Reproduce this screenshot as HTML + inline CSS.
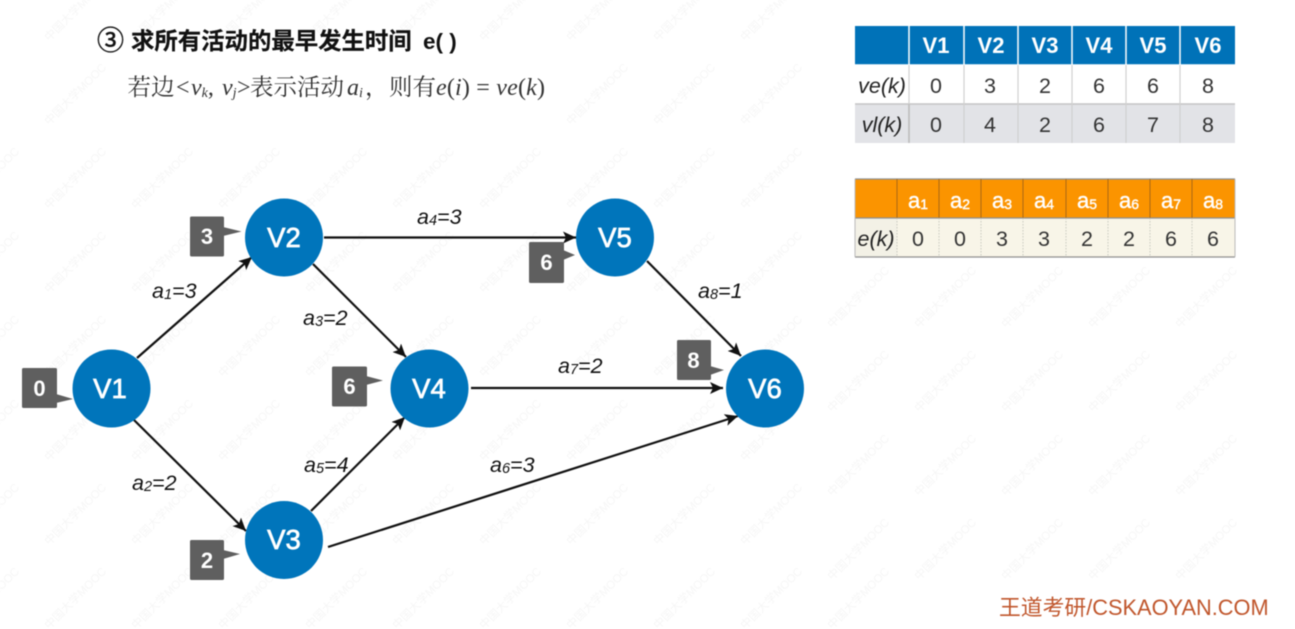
<!DOCTYPE html>
<html><head><meta charset="utf-8">
<style>
html,body{margin:0;padding:0;background:#fff;width:1295px;height:629px;overflow:hidden}
svg{display:block;filter:blur(.5px)}
text{font-family:"Liberation Sans","Noto Sans CJK SC",sans-serif}
.node{font-size:27.500px;fill:#fff;text-anchor:middle;stroke:#fff;stroke-width:.7px}
.call{font-size:22px;fill:#fff;text-anchor:middle;font-weight:bold}
.lab{font-size:21.500px;font-style:italic;fill:#111}
.lab tspan{font-size:14.500px}
.h{font-size:22px;font-weight:bold;fill:#fff;text-anchor:middle}
.c{font-size:21.500px;fill:#333;text-anchor:middle}
.i{font-size:21.500px;font-style:italic;fill:#222;text-anchor:middle}
.s{font-size:14px}
.ser{font-family:"Liberation Serif","Noto Serif CJK SC",serif;fill:#333;font-size:23.500px}
.m{font-family:"Liberation Serif",serif;font-style:italic;fill:#333;font-size:24px}
.wm{font-size:11.500px;fill:#f6f6f6;text-anchor:middle}
line.e{stroke:#111;stroke-width:2.200;marker-end:url(#ah)}
</style></head><body>
<svg width="1295" height="629" viewBox="0 0 1295 629" xmlns="http://www.w3.org/2000/svg">
<defs>
<marker id="ah" markerUnits="userSpaceOnUse" markerWidth="14" markerHeight="12" refX="13" refY="6" orient="auto"><path d="M0 0L13 6L0 12L3 6Z" fill="#111"/></marker>
</defs>
<!-- watermark -->
<g class="wmg">
<text class="wm" transform="translate(78,13) rotate(-45)">中国大学MOOC</text><text class="wm" transform="translate(165,13) rotate(-45)">中国大学MOOC</text><text class="wm" transform="translate(252,13) rotate(-45)">中国大学MOOC</text><text class="wm" transform="translate(339,13) rotate(-45)">中国大学MOOC</text><text class="wm" transform="translate(426,13) rotate(-45)">中国大学MOOC</text><text class="wm" transform="translate(513,13) rotate(-45)">中国大学MOOC</text><text class="wm" transform="translate(600,13) rotate(-45)">中国大学MOOC</text><text class="wm" transform="translate(687,13) rotate(-45)">中国大学MOOC</text><text class="wm" transform="translate(774,13) rotate(-45)">中国大学MOOC</text>
<text class="wm" transform="translate(78,97) rotate(-45)">中国大学MOOC</text><text class="wm" transform="translate(600,97) rotate(-45)">中国大学MOOC</text><text class="wm" transform="translate(687,97) rotate(-45)">中国大学MOOC</text><text class="wm" transform="translate(774,97) rotate(-45)">中国大学MOOC</text>
<text class="wm" transform="translate(-9,181) rotate(-45)">中国大学MOOC</text><text class="wm" transform="translate(78,181) rotate(-45)">中国大学MOOC</text><text class="wm" transform="translate(165,181) rotate(-45)">中国大学MOOC</text><text class="wm" transform="translate(252,181) rotate(-45)">中国大学MOOC</text><text class="wm" transform="translate(339,181) rotate(-45)">中国大学MOOC</text><text class="wm" transform="translate(426,181) rotate(-45)">中国大学MOOC</text><text class="wm" transform="translate(513,181) rotate(-45)">中国大学MOOC</text><text class="wm" transform="translate(600,181) rotate(-45)">中国大学MOOC</text><text class="wm" transform="translate(687,181) rotate(-45)">中国大学MOOC</text><text class="wm" transform="translate(774,181) rotate(-45)">中国大学MOOC</text>
<text class="wm" transform="translate(-9,265) rotate(-45)">中国大学MOOC</text><text class="wm" transform="translate(78,265) rotate(-45)">中国大学MOOC</text><text class="wm" transform="translate(165,265) rotate(-45)">中国大学MOOC</text><text class="wm" transform="translate(252,265) rotate(-45)">中国大学MOOC</text><text class="wm" transform="translate(339,265) rotate(-45)">中国大学MOOC</text><text class="wm" transform="translate(426,265) rotate(-45)">中国大学MOOC</text><text class="wm" transform="translate(513,265) rotate(-45)">中国大学MOOC</text><text class="wm" transform="translate(600,265) rotate(-45)">中国大学MOOC</text><text class="wm" transform="translate(687,265) rotate(-45)">中国大学MOOC</text><text class="wm" transform="translate(774,265) rotate(-45)">中国大学MOOC</text><text class="wm" transform="translate(861,300) rotate(-45)">中国大学MOOC</text><text class="wm" transform="translate(948,300) rotate(-45)">中国大学MOOC</text><text class="wm" transform="translate(1035,300) rotate(-45)">中国大学MOOC</text><text class="wm" transform="translate(1122,300) rotate(-45)">中国大学MOOC</text><text class="wm" transform="translate(1209,300) rotate(-45)">中国大学MOOC</text>
<text class="wm" transform="translate(-9,349) rotate(-45)">中国大学MOOC</text><text class="wm" transform="translate(78,349) rotate(-45)">中国大学MOOC</text><text class="wm" transform="translate(165,349) rotate(-45)">中国大学MOOC</text><text class="wm" transform="translate(252,349) rotate(-45)">中国大学MOOC</text><text class="wm" transform="translate(339,349) rotate(-45)">中国大学MOOC</text><text class="wm" transform="translate(426,349) rotate(-45)">中国大学MOOC</text><text class="wm" transform="translate(513,349) rotate(-45)">中国大学MOOC</text><text class="wm" transform="translate(600,349) rotate(-45)">中国大学MOOC</text><text class="wm" transform="translate(687,349) rotate(-45)">中国大学MOOC</text><text class="wm" transform="translate(774,349) rotate(-45)">中国大学MOOC</text><text class="wm" transform="translate(861,384) rotate(-45)">中国大学MOOC</text><text class="wm" transform="translate(948,384) rotate(-45)">中国大学MOOC</text><text class="wm" transform="translate(1035,384) rotate(-45)">中国大学MOOC</text><text class="wm" transform="translate(1122,384) rotate(-45)">中国大学MOOC</text><text class="wm" transform="translate(1209,384) rotate(-45)">中国大学MOOC</text>
<text class="wm" transform="translate(-9,433) rotate(-45)">中国大学MOOC</text><text class="wm" transform="translate(78,433) rotate(-45)">中国大学MOOC</text><text class="wm" transform="translate(165,433) rotate(-45)">中国大学MOOC</text><text class="wm" transform="translate(252,433) rotate(-45)">中国大学MOOC</text><text class="wm" transform="translate(339,433) rotate(-45)">中国大学MOOC</text><text class="wm" transform="translate(426,433) rotate(-45)">中国大学MOOC</text><text class="wm" transform="translate(513,433) rotate(-45)">中国大学MOOC</text><text class="wm" transform="translate(600,433) rotate(-45)">中国大学MOOC</text><text class="wm" transform="translate(687,433) rotate(-45)">中国大学MOOC</text><text class="wm" transform="translate(774,433) rotate(-45)">中国大学MOOC</text><text class="wm" transform="translate(861,468) rotate(-45)">中国大学MOOC</text><text class="wm" transform="translate(948,468) rotate(-45)">中国大学MOOC</text><text class="wm" transform="translate(1035,468) rotate(-45)">中国大学MOOC</text><text class="wm" transform="translate(1122,468) rotate(-45)">中国大学MOOC</text><text class="wm" transform="translate(1209,468) rotate(-45)">中国大学MOOC</text>
<text class="wm" transform="translate(-9,517) rotate(-45)">中国大学MOOC</text><text class="wm" transform="translate(78,517) rotate(-45)">中国大学MOOC</text><text class="wm" transform="translate(165,517) rotate(-45)">中国大学MOOC</text><text class="wm" transform="translate(252,517) rotate(-45)">中国大学MOOC</text><text class="wm" transform="translate(339,517) rotate(-45)">中国大学MOOC</text><text class="wm" transform="translate(426,517) rotate(-45)">中国大学MOOC</text><text class="wm" transform="translate(513,517) rotate(-45)">中国大学MOOC</text><text class="wm" transform="translate(600,517) rotate(-45)">中国大学MOOC</text><text class="wm" transform="translate(687,517) rotate(-45)">中国大学MOOC</text><text class="wm" transform="translate(774,517) rotate(-45)">中国大学MOOC</text><text class="wm" transform="translate(861,552) rotate(-45)">中国大学MOOC</text><text class="wm" transform="translate(948,552) rotate(-45)">中国大学MOOC</text><text class="wm" transform="translate(1035,552) rotate(-45)">中国大学MOOC</text><text class="wm" transform="translate(1122,552) rotate(-45)">中国大学MOOC</text><text class="wm" transform="translate(1209,552) rotate(-45)">中国大学MOOC</text>
<text class="wm" transform="translate(-9,601) rotate(-45)">中国大学MOOC</text><text class="wm" transform="translate(78,601) rotate(-45)">中国大学MOOC</text><text class="wm" transform="translate(165,601) rotate(-45)">中国大学MOOC</text><text class="wm" transform="translate(252,601) rotate(-45)">中国大学MOOC</text><text class="wm" transform="translate(339,601) rotate(-45)">中国大学MOOC</text><text class="wm" transform="translate(426,601) rotate(-45)">中国大学MOOC</text><text class="wm" transform="translate(513,601) rotate(-45)">中国大学MOOC</text><text class="wm" transform="translate(600,601) rotate(-45)">中国大学MOOC</text><text class="wm" transform="translate(687,601) rotate(-45)">中国大学MOOC</text><text class="wm" transform="translate(774,601) rotate(-45)">中国大学MOOC</text><text class="wm" transform="translate(861,601) rotate(-45)">中国大学MOOC</text>
</g>

<!-- heading -->
<text x="97" y="50" font-size="27" fill="#111" stroke="#111" stroke-width=".5">③</text>
<text x="131" y="49" font-size="23.400" font-weight="bold" fill="#111" stroke="#111" stroke-width=".2">求所有活动的最早发生时间</text>
<text x="423" y="49" font-size="22.500" font-weight="bold" fill="#111">e( )</text>

<text class="ser" x="127.500" y="95">若边</text>
<text class="m" x="176" y="95" style="font-style:normal">&lt;</text>
<text class="m" x="191" y="95">v<tspan font-size="14" dy="2">k</tspan><tspan dy="-2" style="font-style:normal">,</tspan></text>
<text class="m" x="222" y="95">v<tspan font-size="14" dy="2">j</tspan></text>
<text class="m" x="237" y="95" style="font-style:normal">&gt;</text>
<text class="ser" x="250" y="95">表示活动</text>
<text class="m" x="347" y="95">a<tspan font-size="14" dy="2">i</tspan></text>
<text class="ser" x="365" y="95">，</text>
<text class="ser" x="389" y="95">则有</text>
<text class="m" x="436" y="95" textLength="109">e<tspan style="font-style:normal">(</tspan>i<tspan style="font-style:normal">) = </tspan>ve<tspan style="font-style:normal">(</tspan>k<tspan style="font-style:normal">)</tspan></text>

<!-- table 1 -->
<rect x="855" y="26" width="380" height="39" fill="#0072b8"/>
<rect x="855" y="104" width="380" height="39" fill="#e2e3e7"/>
<g stroke="#fff" stroke-width="1.500">
<path d="M909 26V65M964 26V65M1018 26V65M1072 26V65M1126 26V65M1180 26V65"/>
</g>
<path d="M855 65H1235" stroke="#fff" stroke-width="1.500"/>
<path d="M855 104H1235" stroke="#c4c4c4" stroke-width="1.500"/>
<path d="M909 65V143M964 65V143M1018 65V143M1072 65V143M1126 65V143M1180 65V143" stroke="#d0d0d0" stroke-width="1.200"/>
<path d="M909 104V143" stroke="#bbb" stroke-width="1.500"/>
<text class="h" x="936" y="53">V1</text><text class="h" x="991" y="53">V2</text><text class="h" x="1045" y="53">V3</text><text class="h" x="1099" y="53">V4</text><text class="h" x="1153" y="53">V5</text><text class="h" x="1208" y="53">V6</text>
<text class="i" x="882" y="93">ve(k)</text>
<text class="c" x="936" y="93">0</text><text class="c" x="990" y="93">3</text><text class="c" x="1045" y="93">2</text><text class="c" x="1099" y="93">6</text><text class="c" x="1153" y="93">6</text><text class="c" x="1208" y="93">8</text>
<text class="i" x="882" y="132">vl(k)</text>
<text class="c" x="936" y="132">0</text><text class="c" x="990" y="132">4</text><text class="c" x="1045" y="132">2</text><text class="c" x="1099" y="132">6</text><text class="c" x="1153" y="132">7</text><text class="c" x="1208" y="132">8</text>

<!-- table 2 -->
<rect x="855" y="179" width="380" height="39" fill="#fb9400"/>
<rect x="855" y="218" width="380" height="39" fill="#f8f5e8"/>
<rect x="855" y="218" width="42" height="39" fill="#f3f1e6"/>
<path d="M855 179H1235M855 218H1235M855 257H1235" stroke="#8f8f8f" stroke-width="1.200"/>
<path d="M855 179V257M1235 179V257" stroke="#bbb" stroke-width="1"/>
<path d="M897 179V218M939 179V218M981 179V218M1023 179V218M1066 179V218M1108 179V218M1150 179V218M1192 179V218" stroke="#a96a14" stroke-width="1"/>
<path d="M897 218V257M939 218V257M981 218V257M1023 218V257M1066 218V257M1108 218V257M1150 218V257M1192 218V257" stroke="#c8c8c0" stroke-width="1" stroke-dasharray="1.500 1.500"/>
<g style="font-size:22px" stroke="#fff" stroke-width=".4">
<text x="918" y="208" fill="#fff" text-anchor="middle">a<tspan class="s" dy="1">1</tspan></text>
<text x="960" y="208" fill="#fff" text-anchor="middle">a<tspan class="s" dy="1">2</tspan></text>
<text x="1002" y="208" fill="#fff" text-anchor="middle">a<tspan class="s" dy="1">3</tspan></text>
<text x="1044" y="208" fill="#fff" text-anchor="middle">a<tspan class="s" dy="1">4</tspan></text>
<text x="1087" y="208" fill="#fff" text-anchor="middle">a<tspan class="s" dy="1">5</tspan></text>
<text x="1129" y="208" fill="#fff" text-anchor="middle">a<tspan class="s" dy="1">6</tspan></text>
<text x="1171" y="208" fill="#fff" text-anchor="middle">a<tspan class="s" dy="1">7</tspan></text>
<text x="1213" y="208" fill="#fff" text-anchor="middle">a<tspan class="s" dy="1">8</tspan></text>
</g>
<text class="i" x="876" y="246">e(k)</text>
<text class="c" x="918" y="246">0</text><text class="c" x="960" y="246">0</text><text class="c" x="1002" y="246">3</text><text class="c" x="1044" y="246">3</text><text class="c" x="1087" y="246">2</text><text class="c" x="1129" y="246">2</text><text class="c" x="1171" y="246">6</text><text class="c" x="1213" y="246">6</text>

<!-- edges -->
<line class="e" x1="137" y1="358" x2="252" y2="257"/>
<line class="e" x1="134" y1="420" x2="246" y2="531"/>
<line class="e" x1="324" y1="237.500" x2="576" y2="237.500"/>
<line class="e" x1="313" y1="264" x2="406" y2="357"/>
<line class="e" x1="311" y1="511" x2="405" y2="417"/>
<line class="e" x1="328" y1="547" x2="738" y2="416"/>
<line class="e" x1="471" y1="388" x2="723" y2="388"/>
<line class="e" x1="647" y1="261" x2="741" y2="356"/>

<!-- nodes -->
<g fill="#0075bb">
<circle cx="111.500" cy="388.500" r="39"/>
<circle cx="284" cy="237.500" r="39"/>
<circle cx="284" cy="540" r="39"/>
<circle cx="429.500" cy="388.500" r="39"/>
<circle cx="615" cy="237.500" r="39"/>
<circle cx="765" cy="388.500" r="39"/>
</g>
<text class="node" x="110" y="398">V1</text>
<text class="node" x="284" y="247">V2</text>
<text class="node" x="284" y="549">V3</text>
<text class="node" x="429" y="398">V4</text>
<text class="node" x="615" y="247">V5</text>
<text class="node" x="765" y="398">V6</text>

<!-- callouts -->
<g fill="#5f5f5f">
<rect x="190" y="216.500" width="34" height="40" rx="1.500"/><path d="M223 227L241.500 231.500L223 236Z"/>
<rect x="22" y="368" width="35" height="40" rx="1.500"/><path d="M56 394L73 399L56 403Z"/>
<rect x="332" y="366.500" width="35" height="40" rx="1.500"/><path d="M366 376L383 380.500L366 385Z"/>
<rect x="529" y="242" width="35" height="41" rx="1.500"/><path d="M563 250L575 255L563 260Z"/>
<rect x="677" y="340" width="34" height="40" rx="1.500"/><path d="M710 366L724 370L710 375Z"/>
<rect x="190" y="540" width="34" height="40" rx="1.500"/><path d="M223 550L240 554L223 559Z"/>
</g>
<text class="call" x="207" y="244">3</text>
<text class="call" x="39.500" y="396">0</text>
<text class="call" x="349.500" y="394">6</text>
<text class="call" x="546.500" y="270">6</text>
<text class="call" x="693.500" y="368">8</text>
<text class="call" x="207" y="568">2</text>

<!-- labels -->
<text class="lab" x="152" y="298">a<tspan dy="1">1</tspan><tspan dy="-1" style="font-size:21.500px">=3</tspan></text>
<text class="lab" x="303" y="325">a<tspan dy="1">3</tspan><tspan dy="-1" style="font-size:21.500px">=2</tspan></text>
<text class="lab" x="417" y="224">a<tspan dy="1">4</tspan><tspan dy="-1" style="font-size:21.500px">=3</tspan></text>
<text class="lab" x="698" y="298">a<tspan dy="1">8</tspan><tspan dy="-1" style="font-size:21.500px">=1</tspan></text>
<text class="lab" x="558" y="373">a<tspan dy="1">7</tspan><tspan dy="-1" style="font-size:21.500px">=2</tspan></text>
<text class="lab" x="132" y="490">a<tspan dy="1">2</tspan><tspan dy="-1" style="font-size:21.500px">=2</tspan></text>
<text class="lab" x="304" y="472">a<tspan dy="1">5</tspan><tspan dy="-1" style="font-size:21.500px">=4</tspan></text>
<text class="lab" x="490" y="472">a<tspan dy="1">6</tspan><tspan dy="-1" style="font-size:21.500px">=3</tspan></text>

<!-- footer -->
<text x="999" y="615" font-size="21.800" fill="#c0562c">王道考研/CSKAOYAN.COM</text>
</svg>
</body></html>
